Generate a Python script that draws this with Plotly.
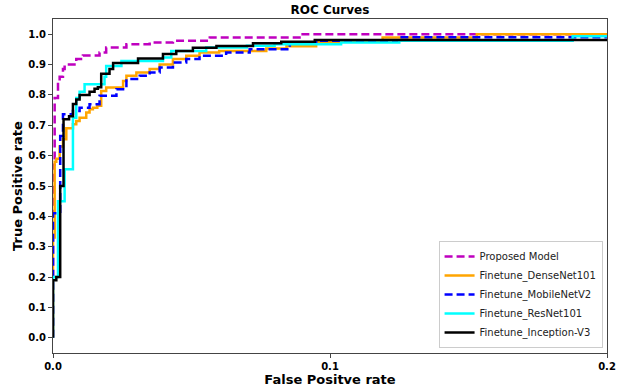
import plotly.graph_objects as go

# ROC curve data (FPR, TPR)
prop_fpr = [0.0, 0.0, 0.0006, 0.0018, 0.0024, 0.0036, 0.0042, 0.0084, 0.0108, 0.0168, 0.0192, 0.0265, 0.0349, 0.0433, 0.0566, 0.089, 0.2]
prop_tpr = [0.0, 0.57, 0.79, 0.84, 0.86, 0.885, 0.90, 0.918, 0.93, 0.94, 0.956, 0.967, 0.973, 0.978, 0.989, 1.0, 1.0]

dense_fpr = [0.0, 0.0, 0.0006, 0.0012, 0.0024, 0.0036, 0.0048, 0.0072, 0.0084, 0.0096, 0.012, 0.0132, 0.0144, 0.016, 0.0174, 0.0192, 0.0253, 0.0265, 0.0301, 0.0349, 0.0385, 0.0433, 0.0481, 0.0529, 0.060, 0.071, 0.077, 0.0843, 0.095, 0.119, 0.153, 0.2]
dense_tpr = [0.0, 0.33, 0.58, 0.59, 0.63, 0.654, 0.69, 0.703, 0.714, 0.725, 0.742, 0.753, 0.758, 0.764, 0.813, 0.824, 0.846, 0.863, 0.874, 0.885, 0.90, 0.918, 0.929, 0.94, 0.945, 0.945, 0.953, 0.96, 0.975, 0.989, 1.0, 1.0]

mobile_fpr = [0.0, 0.0, 0.0026, 0.0036, 0.0072, 0.0096, 0.0132, 0.0168, 0.0229, 0.0265, 0.0313, 0.0349, 0.0385, 0.0433, 0.0481, 0.0529, 0.0625, 0.071, 0.0855, 0.095, 0.125, 0.2]
mobile_tpr = [0.0, 0.41, 0.665, 0.736, 0.747, 0.758, 0.769, 0.797, 0.819, 0.852, 0.863, 0.874, 0.89, 0.907, 0.918, 0.929, 0.94, 0.95, 0.97, 0.978, 0.99, 0.99]

resnet_fpr = [0.0, 0.0, 0.0018, 0.0042, 0.0072, 0.0084, 0.0096, 0.0114, 0.0186, 0.0192, 0.0247, 0.0397, 0.0427, 0.0553, 0.070, 0.080, 0.104, 0.125, 0.1876, 0.2]
resnet_tpr = [0.0, 0.20, 0.45, 0.555, 0.725, 0.79, 0.81, 0.835, 0.86, 0.895, 0.912, 0.923, 0.945, 0.956, 0.962, 0.967, 0.973, 0.978, 0.993, 0.993]

incep_fpr = [0.0, 0.0, 0.0012, 0.0026, 0.0038, 0.0058, 0.0072, 0.0084, 0.0096, 0.0132, 0.015, 0.0162, 0.0174, 0.0204, 0.0217, 0.0307, 0.0397, 0.0445, 0.0505, 0.059, 0.0722, 0.0824, 0.0945, 0.2]
incep_tpr = [0.0, 0.19, 0.20, 0.50, 0.72, 0.73, 0.77, 0.785, 0.80, 0.81, 0.82, 0.825, 0.87, 0.885, 0.905, 0.92, 0.935, 0.945, 0.955, 0.961, 0.97, 0.975, 0.981, 0.981]

series = [
    ("Proposed Model", prop_fpr, prop_tpr, "#bf00bf", "dash"),
    ("Finetune_DenseNet101", dense_fpr, dense_tpr, "orange", "solid"),
    ("Finetune_MobileNetV2", mobile_fpr, mobile_tpr, "blue", "dash"),
    ("Finetune_ResNet101", resnet_fpr, resnet_tpr, "cyan", "solid"),
    ("Finetune_Inception-V3", incep_fpr, incep_tpr, "black", "solid"),
]

x_ticks = [0.0, 0.1, 0.2]
y_ticks = [0.0, 0.1, 0.2, 0.3, 0.4, 0.5, 0.6, 0.7, 0.8, 0.9, 1.0]

fig = go.Figure()
for name, xs, ys, col, dash in series:
    fig.add_trace(go.Scatter(
        x=xs, y=ys, mode="lines", name=name,
        line=dict(color=col, width=2.5, dash=("8px,4px" if dash == "dash" else "solid"), shape="hv"),
    ))

font_fam = "DejaVu Sans"
fig.update_layout(
    width=620, height=387,
    margin=dict(l=53, r=13, t=19, b=34),
    paper_bgcolor="white", plot_bgcolor="white",
    title=dict(text="<b>ROC Curves</b>", x=0.5, xref="paper", xanchor="center",
               y=1 - 10 / 387, yanchor="middle", font=dict(family=font_fam, size=12, color="black")),
    showlegend=True,
    legend=dict(x=0.992, y=0.015, xanchor="right", yanchor="bottom",
                bgcolor="white", bordercolor="#cccccc", borderwidth=1,
                font=dict(family=font_fam, size=10, color="#222222"),
                tracegroupgap=0, itemwidth=30),
    font=dict(family=font_fam),
)
fig.update_xaxes(
    range=[0, 0.2], tickvals=x_ticks, ticktext=["<b>%.1f</b>" % v for v in x_ticks],
    showgrid=False, zeroline=False, showline=True, mirror=True, automargin=False,
    linecolor="#444444", linewidth=1.2, ticks="outside", ticklen=4, tickcolor="#444444",
    tickfont=dict(family=font_fam, size=10, color="black"),
    title=dict(text="<b>False Positve rate</b>", font=dict(family=font_fam, size=13, color="black"), standoff=3),
)
fig.update_yaxes(
    range=[-0.05, 1.05], tickvals=y_ticks, ticktext=["<b>%.1f</b>" % v for v in y_ticks],
    showgrid=False, zeroline=False, showline=True, mirror=True, automargin=False,
    linecolor="#444444", linewidth=1.2, ticks="outside", ticklen=4, tickcolor="#444444",
    tickfont=dict(family=font_fam, size=10, color="black"),
    title=dict(text="<b>True Positive rate</b>", font=dict(family=font_fam, size=13, color="black"), standoff=2),
)

fig.write_html("out.html")
